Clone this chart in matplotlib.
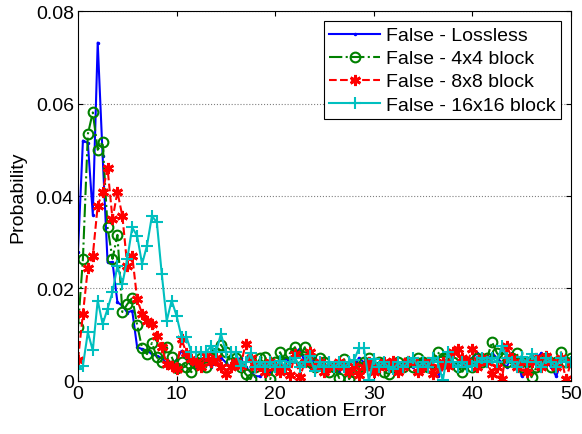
import numpy as np
import matplotlib
matplotlib.use("Agg")
import matplotlib.pyplot as plt

plt.rcParams['font.family'] = ['Liberation Sans', 'DejaVu Sans']

# location error grid (0 to 50, step 0.5)
loc_err = np.linspace(0, 50, 101)

# probabilities
p_lossless = [
    0.0279, 0.052, 0.0515, 0.036, 0.0732, 0.0487, 0.0257, 0.0257, 0.017, 0.0163,
    0.0148, 0.0152, 0.0073, 0.0069, 0.0066, 0.0058, 0.0054, 0.005, 0.0037, 0.0035,
    0.0046, 0.0065,
    0.005, 0.004, 0.003, 0.004, 0.005, 0.003, 0.004, 0.005, 0.004, 0.003,
    0.004, 0.005, 0.003, 0.002, 0.001, 0.001, 0.002, 0.002, 0.003, 0.004,
    0.005, 0.004, 0.006, 0.007, 0.004, 0.003, 0.005, 0.003, 0.002, 0.004,
    0.003, 0.002, 0.003, 0.004, 0.003, 0.005, 0.004, 0.003, 0.004, 0.002,
    0.003, 0.004, 0.003, 0.002, 0.004, 0.003, 0.003, 0.004, 0.005, 0.004,
    0.002, 0.001, 0.003, 0.004, 0.003, 0.004, 0.005, 0.004, 0.005, 0.006,
    0.005, 0.004, 0.006, 0.005, 0.004, 0.003, 0.006, 0.005, 0.001, 0.003,
    0.004, 0.005, 0.006, 0.004, 0.003, 0.001, 0.004, 0.005, 0.004]
p_4x4 = [
    0.0116, 0.0264, 0.0534, 0.0581, 0.05, 0.0517, 0.0332, 0.0264, 0.0316, 0.0149,
    0.0166, 0.018, 0.0121, 0.0071, 0.0058, 0.0082, 0.0051, 0.0042, 0.0073, 0.0052,
    0.0027, 0.004,
    0.003, 0.0019, 0.004, 0.005, 0.003, 0.005, 0.006, 0.0078, 0.0062, 0.004,
    0.005, 0.003, 0.0015, 0.0004, 0.003, 0.005, 0.0052, 0.0004, 0.004, 0.0062,
    0.004, 0.006, 0.0073, 0.005, 0.0073, 0.004, 0.003, 0.005, 0.004, 0.002,
    0.003, 0.0006, 0.0047, 0.0004, 0.002, 0.003, 0.004, 0.005, 0.003, 0.004,
    0.002, 0.0015, 0.003, 0.004, 0.003, 0.004, 0.003, 0.005, 0.004, 0.003,
    0.004, 0.0062, 0.005, 0.0055, 0.004, 0.003, 0.002, 0.004, 0.003, 0.005,
    0.004, 0.005, 0.0084, 0.006, 0.005, 0.004, 0.005, 0.006, 0.003, 0.004,
    0.0008, 0.003, 0.004, 0.005, 0.003, 0.004, 0.0062, 0.004, 0.005]
p_8x8 = [
    0.0046, 0.0145, 0.0244, 0.0271, 0.0379, 0.0409, 0.046, 0.035, 0.0409, 0.0357,
    0.0249, 0.0271, 0.0177, 0.0145, 0.013, 0.0123, 0.0098, 0.0073, 0.0037, 0.0033,
    0.0026, 0.0091,
    0.006, 0.0048, 0.004, 0.003, 0.0055, 0.004, 0.005, 0.003, 0.0015, 0.003,
    0.004, 0.0033, 0.008, 0.005, 0.003, 0.0033, 0.002, 0.004, 0.003, 0.002,
    0.003, 0.0012, 0.0058, 0.0008, 0.004, 0.0063, 0.003, 0.004, 0.002, 0.003,
    0.0033, 0.004, 0.003, 0.002, 0.0033, 0.0012, 0.003, 0.004, 0.002, 0.003,
    0.004, 0.003, 0.0044, 0.002, 0.003, 0.0044, 0.004, 0.002, 0.003, 0.004,
    0.0015, 0.003, 0.004, 0.0033, 0.0062, 0.0069, 0.005, 0.004, 0.0069, 0.003,
    0.005, 0.004, 0.0015, 0.003, 0.0004, 0.0076, 0.005, 0.003, 0.004, 0.002,
    0.004, 0.005, 0.003, 0.0055, 0.004, 0.003, 0.005, 0.0004, 0.004]
p_16x16 = [
    0.0026, 0.0033, 0.0105, 0.0066, 0.0174, 0.0123, 0.0156, 0.0192, 0.0249, 0.021,
    0.0264, 0.0332, 0.0314, 0.0253, 0.0293, 0.0357, 0.0343, 0.0231, 0.013, 0.0174,
    0.0141, 0.0095,
    0.0095, 0.0062, 0.0062, 0.0062, 0.0062, 0.0076, 0.0062, 0.0102, 0.0062, 0.0063,
    0.0062, 0.0033, 0.004, 0.006, 0.003, 0.004, 0.003, 0.004, 0.003, 0.0044,
    0.003, 0.004, 0.005, 0.003, 0.004, 0.0055, 0.0022, 0.004, 0.003, 0.004,
    0.003, 0.004, 0.003, 0.004, 0.0045, 0.0071, 0.0071, 0.0001, 0.0048, 0.003,
    0.004, 0.003, 0.0026, 0.004, 0.003, 0.004, 0.005, 0.003, 0.004, 0.003,
    0.005, 0.004, 0.0001, 0.0062, 0.004, 0.003, 0.004, 0.003, 0.0033, 0.004,
    0.005, 0.004, 0.005, 0.004, 0.0076, 0.005, 0.004, 0.003, 0.0051, 0.004,
    0.0058, 0.004, 0.003, 0.005, 0.004, 0.003, 0.005, 0.004, 0.0041]

labels = ["False - Lossless", "False - 4x4 block", "False - 8x8 block",
          "False - 16x16 block"]

fig = plt.figure(figsize=(5.82, 4.35), dpi=100)
ax = fig.add_axes([0.134, 0.122, 0.847, 0.850])

ax.plot(loc_err, p_lossless, '-', color='b', lw=1.5, marker='.', ms=3,
        label=labels[0])
ax.plot(loc_err, p_4x4, '-.', color=(0, 0.5, 0), lw=1.5, marker='o', ms=7,
        mfc='none', mew=1.5, label=labels[1])
ax.plot(loc_err, p_8x8, '--', color='r', lw=1.5, marker=(6, 2, 0), ms=8,
        mew=2, label=labels[2])
ax.plot(loc_err, p_16x16, '-', color=(0, 0.75, 0.75), lw=1.5, marker='+',
        ms=9, mew=1.5, label=labels[3])

ax.set_xlim(0, 50)
ax.set_ylim(0, 0.08)
ax.set_xticks([0, 10, 20, 30, 40, 50])
ax.set_yticks([0, 0.02, 0.04, 0.06, 0.08])
ax.set_yticklabels(['0', '0.02', '0.04', '0.06', '0.08'])
ax.yaxis.grid(True, linestyle=':', color='gray', lw=0.8)
ax.tick_params(direction='in', top=True, right=True, labelsize=14, pad=3)
ax.set_xlabel("Location Error", fontsize=14, labelpad=0)
ax.set_ylabel("Probability", fontsize=14, labelpad=7)

leg = ax.legend(loc='upper right', fontsize=14, fancybox=False,
                framealpha=1, edgecolor='k', borderaxespad=0.5,
                handlelength=2.6, labelspacing=0.28, borderpad=0.3,
                handletextpad=0.3)
leg.get_frame().set_linewidth(0.8)

fig.savefig("out.png", dpi=100)
